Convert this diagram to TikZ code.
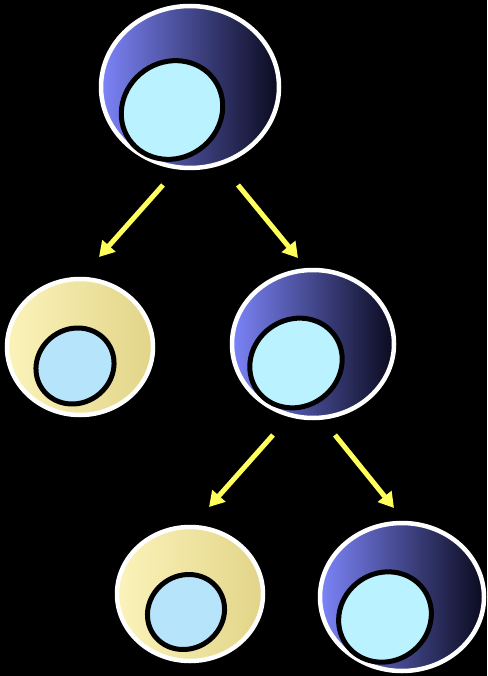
\documentclass[tikz,border=0pt]{standalone}
\usetikzlibrary{shapes.geometric,arrows.meta}
\definecolor{bluelite}{RGB}{124,132,248}
\definecolor{bluemid}{RGB}{74,78,182}
\definecolor{bluedark}{RGB}{10,10,30}
\definecolor{yellite}{RGB}{251,243,186}
\definecolor{yelmid}{RGB}{247,235,160}
\definecolor{yeldark}{RGB}{226,212,136}
\definecolor{nucblue}{RGB}{186,242,255}
\definecolor{nucyel}{RGB}{182,228,250}
\definecolor{arrowyel}{RGB}{255,255,92}
\tikzset{
  cell/.style={ellipse, inner sep=0pt, draw=white, line width=4.5pt},
  bluecell/.style={cell, left color=bluelite, middle color=bluemid, right color=bluedark},
  yelcell/.style={cell, left color=yellite, middle color=yelmid, right color=yeldark},
  nucleus/.style={ellipse, inner sep=0pt, draw=black, line width=5pt, rotate=35},
  division/.style={draw=arrowyel, line width=5pt, -{Triangle[width=17pt,length=15pt]}}
}
\begin{document}
\begin{tikzpicture}[x=1pt,y=-1pt]
  \fill[black] (0,0) rectangle (487,676);
  \useasboundingbox (0,0) rectangle (487,676);

  % cells
  \node[bluecell, minimum width=178pt, minimum height=162pt] (c1) at (190,87) {};
  \node[yelcell,  minimum width=146pt, minimum height=136pt] (c2) at (80,347) {};
  \node[bluecell, minimum width=162pt, minimum height=148pt] (c3) at (313,344) {};
  \node[yelcell,  minimum width=146pt, minimum height=134pt] (c4) at (190,594) {};
  \node[bluecell, minimum width=164pt, minimum height=148pt] (c5) at (402,597) {};

  % nuclei
  \node[nucleus, fill=nucblue, minimum width=104pt, minimum height=96pt] (n1) at (172,110) {};
  \node[nucleus, fill=nucyel,  minimum width=80pt,  minimum height=74pt] (n2) at (75,366) {};
  \node[nucleus, fill=nucblue, minimum width=95pt,  minimum height=87pt] (n3) at (296,363) {};
  \node[nucleus, fill=nucyel,  minimum width=79pt,  minimum height=73pt] (n4) at (186,612) {};
  \node[nucleus, fill=nucblue, minimum width=95pt,  minimum height=88pt] (n5) at (385,617) {};

  % division arrows
  \coordinate (a1s) at (163,185); \coordinate (a1e) at (99,257);
  \coordinate (a2s) at (238,185); \coordinate (a2e) at (298,258);
  \coordinate (a3s) at (273,435); \coordinate (a3e) at (209,507);
  \coordinate (a4s) at (335,435); \coordinate (a4e) at (394,508);
  \draw[division] (a1s) -- (a1e);
  \draw[division] (a2s) -- (a2e);
  \draw[division] (a3s) -- (a3e);
  \draw[division] (a4s) -- (a4e);
\end{tikzpicture}
\end{document}
